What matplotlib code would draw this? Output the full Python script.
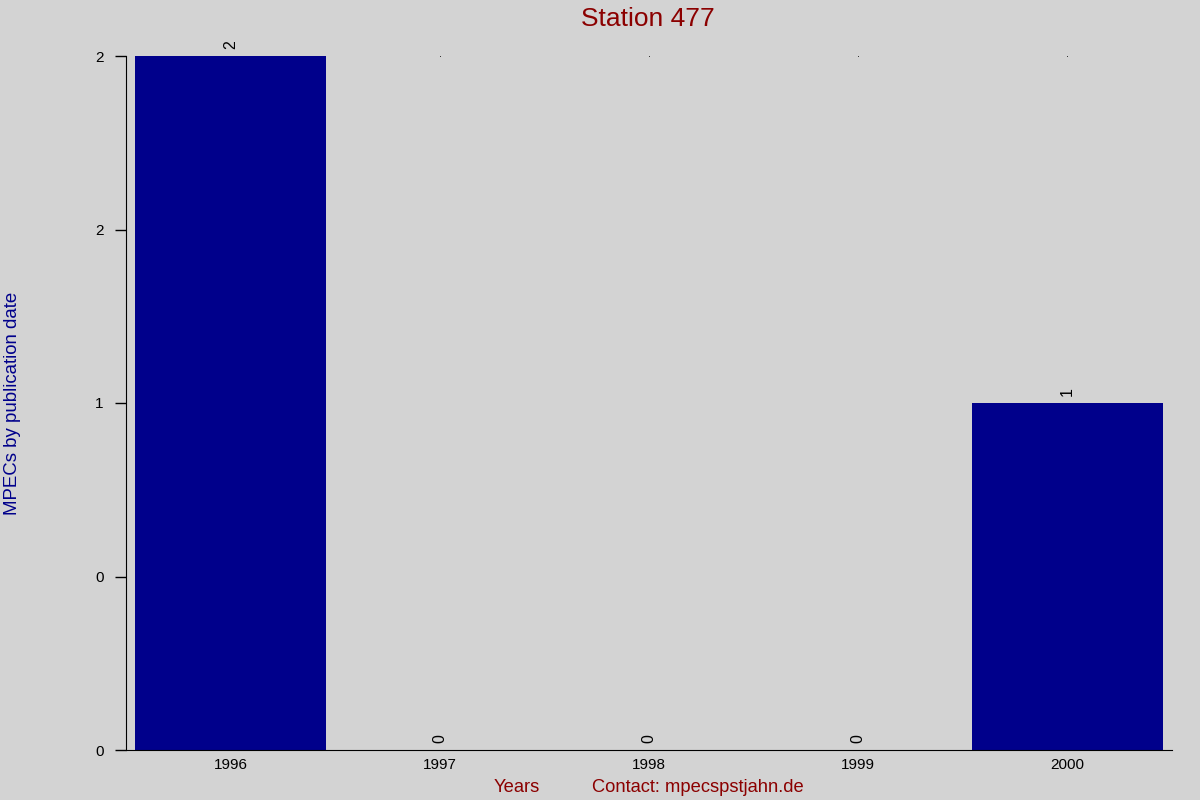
import matplotlib
matplotlib.use("Agg")
import matplotlib.pyplot as plt
import numpy as np

years = ["1996", "1997", "1998", "1999", "2000"]
counts = [2, 0, 0, 0, 1]
y_ticks = [0, 0.5, 1, 1.5, 2]

plt.rcParams["font.family"] = ["Liberation Sans", "DejaVu Sans"]

bg = "#d3d3d3"
fig = plt.figure(figsize=(12, 8), dpi=100, facecolor=bg)
ax = fig.add_axes([0.105, 0.0625, 0.8717, 0.8675], facecolor=bg)

x = np.arange(len(years))
ax.bar(x, counts, width=0.91, color="#00008b")

for xi, c in zip(x, counts):
    ax.annotate(str(c), (xi, c), xytext=(0, 5), textcoords="offset points",
                rotation=90, ha="center", va="bottom", fontsize=11.5, color="black")

# tiny marks along the top
ax.plot(x[1:], [max(counts)] * (len(x) - 1), "s", markersize=0.5, markeredgewidth=0,
        color="black", clip_on=False)

ax.set_xlim(-0.5, len(years) - 0.5)
ax.set_ylim(0, max(counts))
ax.set_xticks(x)
ax.set_xticklabels(years, fontsize=11)
ax.tick_params(axis="x", length=0, pad=6)
ax.set_yticks(y_ticks)
ax.set_yticklabels(["%.0f" % v for v in y_ticks], fontsize=11)
ax.tick_params(axis="y", length=8, width=1, direction="out", pad=8)

for s in ["top", "right"]:
    ax.spines[s].set_visible(False)

fig.text(0.54, 0.976, "Station 477", ha="center", va="center", fontsize=19, color="#8b0000")
fig.text(0.0105, 0.4956, "MPECs by publication date", rotation=90, ha="center", va="center",
         fontsize=13.4, color="#00008b")
fig.text(0.431, 0.016, "Years", ha="center", va="center", fontsize=13.2, color="#8b0000")
fig.text(0.5812, 0.016, "Contact: mpecspstjahn.de", ha="center", va="center", fontsize=13.2, color="#8b0000")

fig.savefig("out.png", dpi=100, facecolor=bg)
